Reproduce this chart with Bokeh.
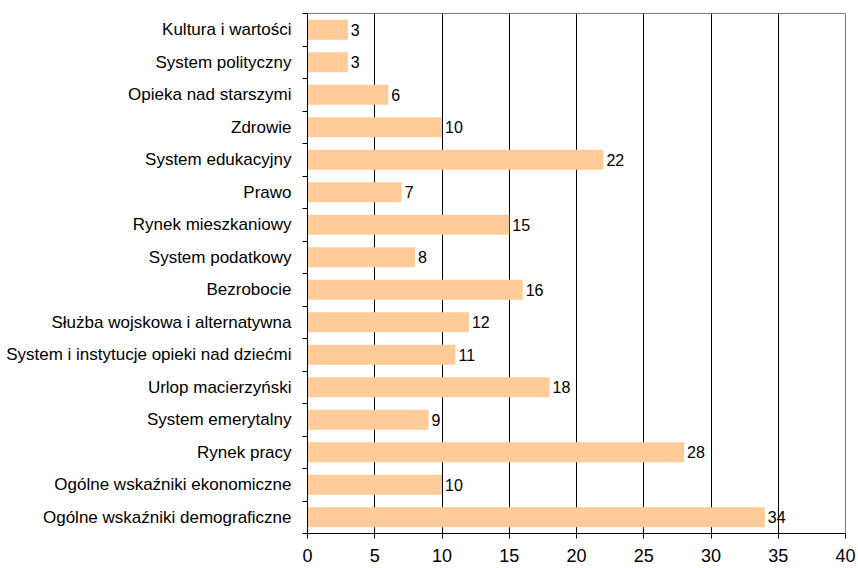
from bokeh.plotting import figure
from bokeh.models import ColumnDataSource, FixedTicker, Range1d, LabelSet
from bokeh.core.properties import value
from bokeh.embed import file_html
from bokeh.resources import INLINE

categories = [
    "Kultura i wartości",
    "System polityczny",
    "Opieka nad starszymi",
    "Zdrowie",
    "System edukacyjny",
    "Prawo",
    "Rynek mieszkaniowy",
    "System podatkowy",
    "Bezrobocie",
    "Służba wojskowa i alternatywna",
    "System i instytucje opieki nad dziećmi",
    "Urlop macierzyński",
    "System emerytalny",
    "Rynek pracy",
    "Ogólne wskaźniki ekonomiczne",
    "Ogólne wskaźniki demograficzne",
]
values = [3, 3, 6, 10, 22, 7, 15, 8, 16, 12, 11, 18, 9, 28, 10, 34]
x_ticks = [0, 5, 10, 15, 20, 25, 30, 35, 40]

n = len(categories)
ypos = [n - 1 - i + 0.5 for i in range(n)]
src = ColumnDataSource(dict(y=ypos, v=values, lab=[str(v) for v in values], cat=categories))

FONT = "Liberation Sans"

p = figure(width=858, height=568, output_backend="svg", toolbar_location=None,
           x_range=Range1d(0, 40), y_range=Range1d(0, n),
           min_border_left=307, min_border_right=13, min_border_top=13, min_border_bottom=35)
p.hbar(y="y", right="v", left=0, height=0.62, source=src, fill_color="#FFCC99", line_color=None)

labels = LabelSet(x="v", y="y", text="lab", source=src, x_offset=3, text_baseline="middle",
                  text_font=value(FONT), text_font_size="16px", text_color="black")
p.add_layout(labels)

p.xaxis.ticker = FixedTicker(ticks=x_ticks, minor_ticks=[])
p.xaxis.major_label_text_font = FONT
p.xaxis.major_label_text_font_size = "18px"
p.xaxis.major_label_text_color = "black"
p.xaxis.major_label_standoff = 10
p.xaxis.axis_line_color = "black"
p.xaxis.major_tick_line_color = "black"
p.xaxis.major_tick_out = 5
p.xaxis.major_tick_in = 0
p.xaxis.minor_tick_line_color = None

p.yaxis.ticker = FixedTicker(ticks=ypos, minor_ticks=list(range(0, n + 1)))
p.yaxis.major_label_overrides = {y: c for y, c in zip(ypos, categories)}
p.yaxis.major_label_text_font = FONT
p.yaxis.major_label_text_font_size = "17px"
p.yaxis.major_label_text_color = "black"
p.yaxis.major_tick_out = 0
p.yaxis.major_tick_in = 0
p.yaxis.minor_tick_out = 5
p.yaxis.minor_tick_in = 0
p.yaxis.minor_tick_line_color = "black"
p.yaxis.axis_line_color = "black"
p.yaxis.major_label_standoff = 11

p.xgrid.ticker = FixedTicker(ticks=x_ticks)
p.xgrid.grid_line_color = "black"
p.ygrid.grid_line_color = None
p.outline_line_color = "#808080"
p.background_fill_color = "white"
p.border_fill_color = "white"

open("out.html", "w").write(file_html(p, INLINE))
